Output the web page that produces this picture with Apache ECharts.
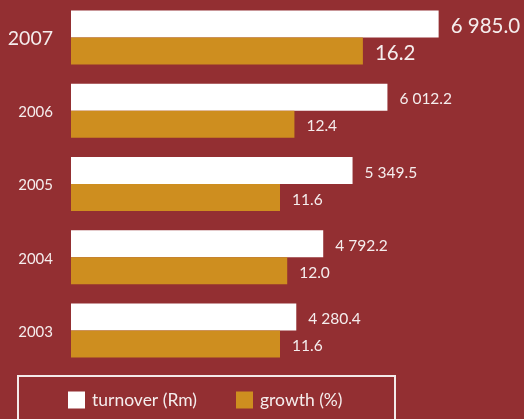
<!DOCTYPE html>
<html><head><meta charset="utf-8">
<script src="https://cdn.jsdelivr.net/npm/echarts@6/dist/echarts.min.js"></script>
<style>html,body{margin:0;padding:0;background:#932f32;}#c{width:524px;height:419px;}</style>
</head><body><div id="c"></div>
<script>
const years = ['2007', '2006', '2005', '2004', '2003'];
const turnover = [6985.0, 6012.2, 5349.5, 4792.2, 4280.4];
const growth = [16.2, 12.4, 11.6, 12.0, 11.6];
const turnoverLabels = ['6 985.0', '6 012.2', '5 349.5', '4 792.2', '4 280.4'];
const growthLabels = ['16.2', '12.4', '11.6', '12.0', '11.6'];
const seriesNames = ['turnover (Rm)', 'growth (%)'];

const FONT = 'Lato';
const TXT = '#f5eded';
const chart = echarts.init(document.getElementById('c'));

function mk(vals) {
  return vals.map((v, i) => ({
    value: v,
    label: i === 0 ? { fontSize: 20.5 } : {}
  }));
}

chart.setOption({
  backgroundColor: '#932f32',
  animation: false,
  grid: { left: 71, top: 1, width: 400, height: 366 },
  xAxis: [
    { type: 'value', min: 0, max: 7600, show: false },
    { type: 'value', min: 0, max: 22.2, show: false }
  ],
  yAxis: {
    type: 'category', data: years, inverse: true,
    axisLine: { show: false }, axisTick: { show: false }, splitLine: { show: false },
    axisLabel: {
      margin: 18,
      formatter: v => v === '2007' ? '{big|' + v + '}' : '{small|' + v + '}',
      rich: {
        big: { fontSize: 19.5, fontFamily: FONT, color: TXT, padding: [3, 0, 0, 0] },
        small: { fontSize: 15, fontFamily: FONT, color: TXT, padding: [3, 0, 0, 0] }
      }
    }
  },
  legend: [
    { data: [seriesNames[0]], left: 68, top: 391, padding: 0, itemWidth: 17, itemHeight: 17, itemGap: 0,
      icon: 'rect', textStyle: { color: TXT, fontSize: 17.5, fontFamily: FONT, padding: [0, 0, 0, 2] } },
    { data: [seriesNames[1]], left: 236, top: 391, padding: 0, itemWidth: 17, itemHeight: 17, itemGap: 0,
      icon: 'rect', textStyle: { color: TXT, fontSize: 17.5, fontFamily: FONT, padding: [0, 0, 0, 2] } }
  ],
  graphic: [{
    type: 'rect', shape: { x: 18, y: 376, width: 377, height: 80 },
    style: { fill: 'none', stroke: '#f3eaea', lineWidth: 2 }, silent: true
  }],
  series: [
    {
      name: seriesNames[0], type: 'bar', xAxisIndex: 0,
      data: mk(turnover), barWidth: 27, barGap: '0%',
      itemStyle: { color: '#ffffff' },
      label: { show: true, position: 'right', distance: 12, offset: [0, 2], color: TXT, fontSize: 15.5, fontFamily: FONT,
        formatter: p => turnoverLabels[p.dataIndex] }
    },
    {
      name: seriesNames[1], type: 'bar', xAxisIndex: 1,
      data: mk(growth), barWidth: 27, barGap: '0%',
      itemStyle: { color: '#ce8e1f' },
      label: { show: true, position: 'right', distance: 12, offset: [0, 2], color: TXT, fontSize: 15.5, fontFamily: FONT,
        formatter: p => growthLabels[p.dataIndex] }
    }
  ]
});
</script></body></html>
